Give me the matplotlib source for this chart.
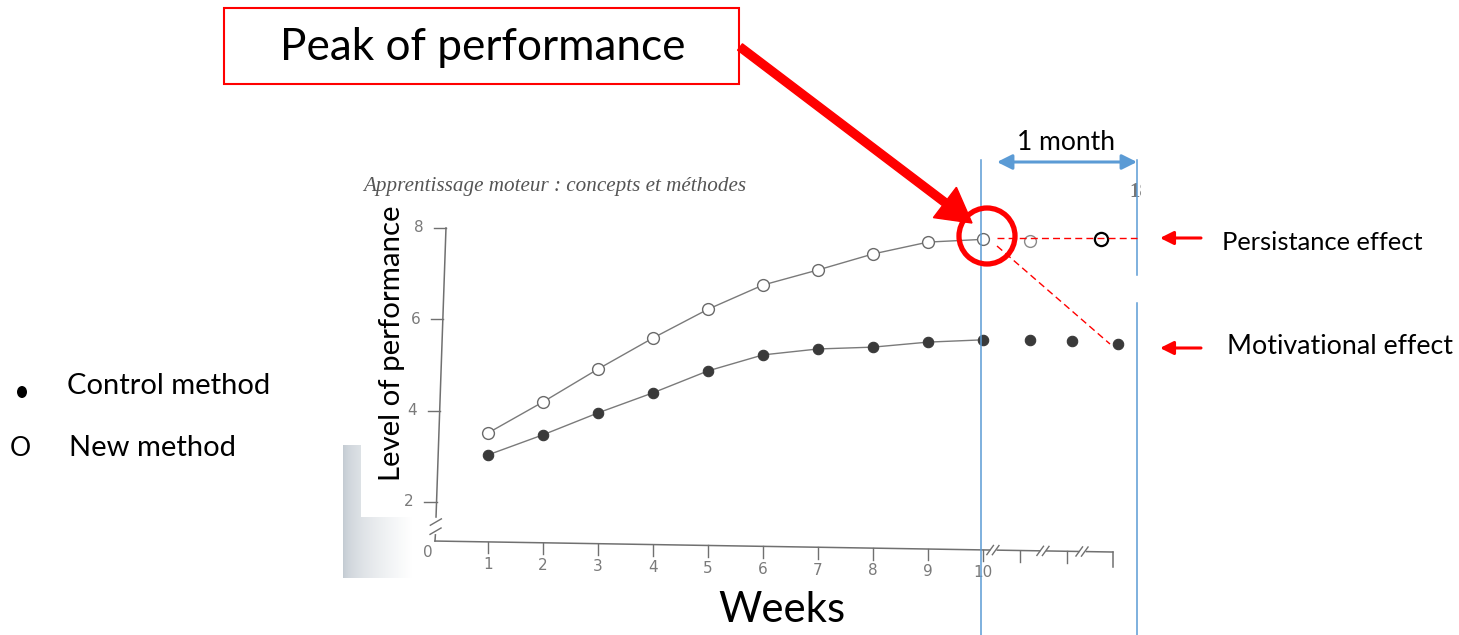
import matplotlib
matplotlib.use("Agg")
import matplotlib.pyplot as plt
import numpy as np
from matplotlib.patches import Rectangle, Circle, FancyArrow, Ellipse

# ---------------- data ----------------
weeks = [1, 2, 3, 4, 5, 6, 7, 8, 9, 10]
new_method = [3.51, 4.19, 4.91, 5.59, 6.22, 6.75, 7.08, 7.43, 7.69, 7.75]
control_method = [3.03, 3.47, 3.95, 4.39, 4.87, 5.22, 5.35, 5.39, 5.50, 5.55]
# retention tests after the break (positions on the broken x axis)
retention_pos_new = [10.85]
retention_new = [7.71]
retention_pos_control = [10.85, 11.62, 12.45]
retention_control = [5.55, 5.52, 5.46]
expected_pos = [12.15]
expected_new = [7.76]
x_tick_values = [0, 1, 2, 3, 4, 5, 6, 7, 8, 9, 10]
x_tick_labels = ["0", "1", "2", "3", "4", "5", "6", "7", "8", "9", "10"]
y_tick_values = [2, 4, 6, 8]
y_tick_labels = ["2", "4", "6", "8"]
break_ticks = [10.67, 11.53]
break_marks = [10.18, 11.09, 11.80]

SANS = ["Lato", "DejaVu Sans"]

W, H = 1459, 635
fig = plt.figure(figsize=(W / 100, H / 100), dpi=100)
fig.patch.set_facecolor("white")

# pixel mapping of the scanned chart
PX0, PXW = 433.0, 55.0
PY0, PYU = 593.3, 45.67

ax = fig.add_axes([0, 0, 1, 1])
ax.set_xlim(-PX0 / PXW, (W - PX0) / PXW)
ax.set_ylim((PY0 - H) / PYU, PY0 / PYU)
ax.axis("off")

ov = fig.add_axes([0, 0, 1, 1], zorder=5)
ov.set_xlim(0, W)
ov.set_ylim(H, 0)
ov.axis("off")
ov.patch.set_alpha(0)

renderer = fig.canvas.get_renderer()


def fit(t, target, vertical=False):
    for _ in range(3):
        bb = t.get_window_extent(renderer=renderer)
        cur = bb.height if vertical else bb.width
        t.set_fontsize(t.get_fontsize() * target / cur)
    return t


GRAY = "#707070"
TICKC = "#7a7a7a"
TICKFONT = dict(fontsize=11, color=TICKC, family="DejaVu Sans")

# ---- scanned page shadow on the left ----
col0 = np.array([0.76, 0.79, 0.82])


def shade(n, stop):
    g = np.linspace(0, stop, n) ** 0.6
    im = np.ones((2, n, 3))
    for i in range(3):
        im[:, :, i] = col0[i] + (1 - col0[i]) * g
    return im


ov.imshow(shade(60, 0.26), extent=(343, 361, 517, 445), aspect="auto", zorder=0)
ov.imshow(shade(200, 1.0), extent=(343, 412, 578, 517), aspect="auto", zorder=0)
ov.set_xlim(0, W)
ov.set_ylim(H, 0)


# ---- axes of the scanned figure ----
def xaxis_level(w):
    return 1.145 - 0.0195 * w


def yaxis_x(level):
    return 0.055 + 0.0286 * (level - 1.67)


# y axis (upper part, break, lower stub)
ax.plot([yaxis_x(8.0), yaxis_x(1.67)], [8.0, 1.67], color=GRAY, lw=1.1)
ax.plot([yaxis_x(1.28), 0.036], [1.28, xaxis_level(0.036)], color=GRAY, lw=1.1)
for lv in [1.56, 1.36]:
    xc = yaxis_x(lv)
    ax.plot([xc - 0.1, xc + 0.1], [lv - 0.07, lv + 0.07], color=GRAY, lw=1.0)
for v, lab in zip(y_tick_values, y_tick_labels):
    xa = yaxis_x(v)
    ax.plot([xa - 0.22, xa], [v, v], color=GRAY, lw=1.0)
    ax.text(xa - 0.5, v, lab, ha="center", va="center", zorder=8, **TICKFONT)

# x axis with breaks
segs = [(0.036, 10.12), (10.26, 11.03), (11.16, 11.74), (11.88, 12.36)]
for a, b in segs:
    ax.plot([a, b], [xaxis_level(a), xaxis_level(b)], color=GRAY, lw=1.1)
for bm in break_marks:
    for dx in (-0.05, 0.05):
        xc = bm + dx
        ax.plot([xc - 0.06, xc + 0.06], [xaxis_level(xc) - 0.1, xaxis_level(xc) + 0.1],
                color=GRAY, lw=1.0)
for v, lab in zip(x_tick_values, x_tick_labels):
    la = xaxis_level(v)
    if v > 0:
        ax.plot([v, v], [la, la - 0.25], color=GRAY, lw=1.0)
        ax.text(v, la - 0.5, lab, ha="center", va="center", **TICKFONT)
    else:
        ax.text(v - 0.1, la - 0.25, lab, ha="center", va="center", **TICKFONT)
for bt in break_ticks:
    la = xaxis_level(bt)
    ax.plot([bt, bt], [la, la - 0.25], color=GRAY, lw=1.0)
la = xaxis_level(12.36)
ax.plot([12.36, 12.36], [la, la - 0.33], color=GRAY, lw=1.1)

# ---- data series ----
ax.plot(weeks, new_method, color="#7a7a7a", lw=1.0, marker="o", ms=8.5,
        mfc="white", mec="#6a6a6a", mew=1.0, zorder=3)
ax.plot(weeks, control_method, color="#7a7a7a", lw=1.0, marker="o", ms=7.5,
        mfc="#3a3a3a", mec="#3a3a3a", mew=0.8, zorder=3)
ax.plot(retention_pos_new, retention_new, ls="none", marker="o", ms=8.5,
        mfc="white", mec="#8a8a8a", mew=1.0, zorder=3)
ax.plot(retention_pos_control, retention_control, ls="none", marker="o", ms=7.5,
        mfc="#3a3a3a", mec="#3a3a3a", mew=0.8, zorder=3)
ax.plot(expected_pos, expected_new, ls="none", marker="o", ms=9.5,
        mfc="none", mec="black", mew=1.6, zorder=4)

# ---- scanned page texts ----
t = ov.text(363, 186, "Apprentissage moteur : concepts et méthodes", ha="left",
            va="center", fontsize=12, style="italic", color="#555555",
            family="Liberation Serif")
fit(t, 382)
pg = ov.text(1129, 192, "18", ha="left", va="center", fontsize=15,
             weight="bold", color="#777777", family="Liberation Serif")
pg.set_clip_on(True)
pg.set_clip_path(Rectangle((0, 0), 1141, H, transform=ov.transData))

# ---- annotations ----
t = ov.text(392, 343, "Level of performance", rotation=90, ha="center",
            va="center", fontsize=20, color="black", family=SANS, zorder=6)
fit(t, 277, vertical=True)
t = ov.text(782, 610, "Weeks", ha="center", va="center", fontsize=28,
            color="black", family=SANS)
fit(t, 127)

ov.add_patch(Rectangle((224, 8), 515, 76, facecolor="white", edgecolor="#ff0000",
                       lw=1.5, zorder=6))
t = ov.text(483, 47, "Peak of performance", ha="center", va="center",
            fontsize=28, color="black", family=SANS, zorder=7)
fit(t, 405)

ov.add_patch(FancyArrow(740, 47, 972 - 740, 223 - 47, width=8, head_width=38,
                        head_length=34, length_includes_head=True,
                        color="#ff0000", zorder=7))
ov.add_patch(Circle((987, 236), 28, facecolor="none", edgecolor="#ff0000",
                    lw=3.8, zorder=7))

BLUE = "#5b9bd5"
ov.plot([981, 981], [160, H], color=BLUE, lw=1.1, zorder=6)
ov.plot([1137, 1137], [160, 275], color=BLUE, lw=1.1, zorder=6)
ov.plot([1137, 1137], [303, H], color=BLUE, lw=1.1, zorder=6)
ov.annotate("", xy=(997, 162), xytext=(1137, 162),
            arrowprops=dict(arrowstyle="<|-|>,head_length=0.9,head_width=0.45",
                            color=BLUE, lw=2.2, shrinkA=0, shrinkB=0), zorder=6)
t = ov.text(1066, 142, "1 month", ha="center", va="center", fontsize=16,
            color="black", family=SANS)
fit(t, 98)

ov.plot([997, 1137], [238, 238], color="#ff0000", lw=1.0, ls=(0, (5, 3)), zorder=6)
ov.plot([997, 1110], [246, 344], color="#ff0000", lw=1.0, ls=(0, (5, 3)), zorder=6)

for yy in (238, 348):
    ov.annotate("", xy=(1160, yy), xytext=(1201, yy),
                arrowprops=dict(arrowstyle="-|>,head_length=0.8,head_width=0.4",
                                color="#ff0000", lw=2.2, shrinkA=0, shrinkB=0),
                zorder=6)
t = ov.text(1222, 243, "Persistance effect", ha="left", va="center", fontsize=15,
            color="black", family=SANS)
fit(t, 200)
t = ov.text(1227, 347, "Motivational effect", ha="left", va="center", fontsize=15,
            color="black", family=SANS)
fit(t, 226)

# ---- hand made legend ----
ov.add_patch(Ellipse((22, 392), 10, 12, facecolor="black", edgecolor="none"))
t = ov.text(67, 386, "Control method", ha="left", va="center", fontsize=15,
            color="black", family=SANS)
fit(t, 203)
ov.text(20, 448, "O", ha="center", va="center", fontsize=19, color="black",
        family=SANS)
t = ov.text(69, 448, "New method", ha="left", va="center", fontsize=15,
            color="black", family=SANS)
fit(t, 167)

fig.savefig("out.png", dpi=100, facecolor="white")
